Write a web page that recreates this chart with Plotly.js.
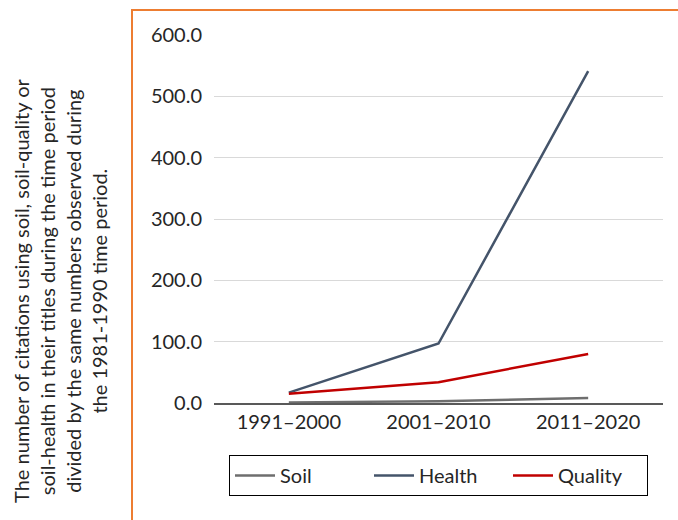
<!DOCTYPE html>
<html><head><meta charset="utf-8">
<script src="https://cdn.plot.ly/plotly-3.0.1.min.js"></script>
<style>html,body{margin:0;padding:0;background:#fff}#chart{width:678px;height:520px}</style>
</head><body><div id="chart"></div>
<script>
const categories = ["1991\u20132000", "2001\u20132010", "2011\u20132020"];
const soil = [1.0, 3.0, 8.0];
const health = [17.0, 97.0, 541.0];
const quality = [15.0, 34.0, 80.0];
const yTicks = [0, 100, 200, 300, 400, 500, 600];
const yTickLabels = ["0.0", "100.0", "200.0", "300.0", "400.0", "500.0", "600.0"];
const yTitle = "The number of citations using soil, soil-quality or<br>soil-health in their titles during the time period<br>divided by the same numbers observed during<br>the 1981-1990 time period.";

const W = 678, H = 520, L = 214, R = 15, T = 35, B = 117;
const pw = W - L - R, ph = H - T - B;
const px = x => (x - L) / pw;
const py = y => (H - B - y) / ph;

const font = {family: "Lato, 'Open Sans', sans-serif", size: 20, color: "#262626"};
const titleFont = {family: "Lato, 'Open Sans', sans-serif", size: 20, color: "#262626"};
const traces = [
  {name: "Soil", x: categories, y: soil, type: "scatter", mode: "lines", line: {color: "#6e6e6e", width: 2.5}},
  {name: "Health", x: categories, y: health, type: "scatter", mode: "lines", line: {color: "#44546a", width: 2.5}},
  {name: "Quality", x: categories, y: quality, type: "scatter", mode: "lines", line: {color: "#c00000", width: 2.5}}
];
const layout = {
  width: W, height: H,
  margin: {l: L, r: R, t: T, b: B, autoexpand: false},
  paper_bgcolor: "#fff", plot_bgcolor: "#fff",
  font: font,
  showlegend: true,
  xaxis: {type: "category", range: [-0.5, 2.5], showgrid: false, zeroline: false,
          showline: true, linecolor: "#595959", linewidth: 1.5, ticks: "", tickfont: font,
          ticklabelstandoff: 0},
  yaxis: {range: [0, 600], tickvals: yTicks, ticktext: yTickLabels, showgrid: true,
          gridcolor: "#d9d9d9", gridwidth: 1, zeroline: false, showline: false, ticks: "",
          ticklabelstandoff: 11, tickfont: font},
  legend: {orientation: "h", x: 0.5, xanchor: "center", y: py(455), yanchor: "top",
           bordercolor: "#000", borderwidth: 1, font: font, itemwidth: 40,
           entrywidth: 84, entrywidthmode: "pixels"},
  annotations: [{text: yTitle, textangle: -90, xref: "paper", yref: "paper",
                 x: px(60), y: py(291), xanchor: "center", yanchor: "middle",
                 showarrow: false, align: "center", font: titleFont}],
  shapes: [
    {type: "line", xref: "paper", yref: "paper", x0: px(132), x1: px(132), y0: py(10), y1: py(522),
     line: {color: "#ed7d31", width: 2}},
    {type: "line", xref: "paper", yref: "paper", x0: px(131), x1: px(680), y0: py(10), y1: py(10),
     line: {color: "#ed7d31", width: 2}}
  ]
};
Plotly.newPlot("chart", traces, layout, {displayModeBar: false, staticPlot: true});
</script></body></html>
